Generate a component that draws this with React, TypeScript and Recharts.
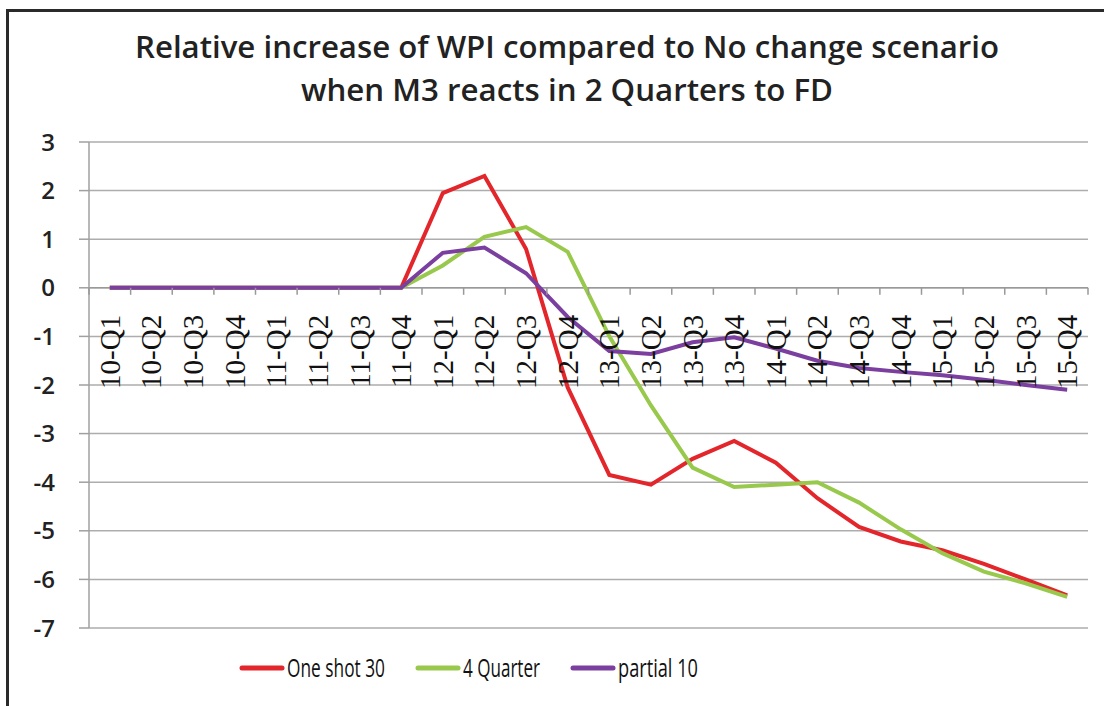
import { LineChart, Line, XAxis, YAxis, CartesianGrid, ReferenceLine, Legend } from "recharts";

const quarters = [
  "10-Q1", "10-Q2", "10-Q3", "10-Q4",
  "11-Q1", "11-Q2", "11-Q3", "11-Q4",
  "12-Q1", "12-Q2", "12-Q3", "12-Q4",
  "13-Q1", "13-Q2", "13-Q3", "13-Q4",
  "14-Q1", "14-Q2", "14-Q3", "14-Q4",
  "15-Q1", "15-Q2", "15-Q3", "15-Q4",
];
const oneShot30 = [0, 0, 0, 0, 0, 0, 0, 0, 1.95, 2.3, 0.8, -2.05, -3.85, -4.05, -3.52, -3.15, -3.6, -4.33, -4.92, -5.22, -5.4, -5.68, -6.0, -6.33];
const fourQuarter = [0, 0, 0, 0, 0, 0, 0, 0, 0.46, 1.05, 1.25, 0.74, -1.0, -2.42, -3.7, -4.1, -4.05, -4.0, -4.42, -4.97, -5.46, -5.84, -6.08, -6.36];
const partial10 = [0, 0, 0, 0, 0, 0, 0, 0, 0.72, 0.83, 0.3, -0.6, -1.3, -1.36, -1.12, -1.02, -1.25, -1.5, -1.65, -1.73, -1.8, -1.89, -2.0, -2.1];
const yTicks = [-7, -6, -5, -4, -3, -2, -1, 0, 1, 2, 3];

const series = [
  { key: "oneShot", name: "One shot 30", color: "#e3262b", textLen: 98 },
  { key: "four", name: "4 Quarter", color: "#98c94c", textLen: 77 },
  { key: "partial", name: "partial 10", color: "#7a3f9f", textLen: 80 },
];

const data = quarters.map((q, i) => ({
  q,
  oneShot: oneShot30[i],
  four: fourQuarter[i],
  partial: partial10[i],
}));

const W = 1104;
const H = 706;
const TOP = 142;
const BOTTOM = 628;
const RIGHT = 1088;
const Y_MIN = -7;
const Y_MAX = 3;
// y of the zero line, where the category axis sits
const zeroY = TOP + ((BOTTOM - TOP) * (Y_MAX - 0)) / (Y_MAX - Y_MIN);

const QuarterTick = (props: any) => {
  const { x, payload, index, visibleTicksCount } = props;
  const half = payload.offset ?? 0;
  return (
    <g>
      <line x1={x - half} x2={x - half} y1={zeroY} y2={zeroY + 7} stroke="#999" strokeWidth={1.5} />
      {index === visibleTicksCount - 1 && (
        <line x1={x + half} x2={x + half} y1={zeroY} y2={zeroY + 7} stroke="#999" strokeWidth={1.5} />
      )}
      <text
        transform={`translate(${x + 10},${zeroY + 27}) rotate(-90)`}
        textAnchor="end"
        fontFamily="'Liberation Serif', 'DejaVu Serif', serif"
        fontSize={29}
        fill="#111"
      >
        {payload.value}
      </text>
    </g>
  );
};

// legend: line swatch + condensed label, items laid out left to right
const LegendContent = () => {
  let cx = 242;
  return (
    <svg width={RIGHT} height={40} style={{ display: "block" }}>
      {series.map((s) => {
        const x0 = cx;
        cx += 45 + s.textLen + 33;
        return (
          <g key={s.key}>
            <line x1={x0} x2={x0 + 40} y1={20} y2={20} stroke={s.color} strokeWidth={5} strokeLinecap="round" />
            <text
              x={x0 + 45}
              y={29}
              fontFamily="'Open Sans', sans-serif"
              fontSize={26}
              fill="#111"
              textLength={s.textLen}
              lengthAdjust="spacingAndGlyphs"
            >
              {s.name}
            </text>
          </g>
        );
      })}
    </svg>
  );
};

export default function App() {
  return (
    <div style={{ position: "absolute", left: 0, top: 0, width: W, height: H, background: "#fff" }}>
      <div
        style={{
          position: "absolute",
          left: 6,
          top: 9,
          width: W - 6,
          height: H - 9,
          borderTop: "3px solid #2a2a2a",
          borderLeft: "3px solid #2a2a2a",
          boxSizing: "border-box",
        }}
      />
      <svg width={W} height={120} style={{ position: "absolute", left: 0, top: 0 }}>
        <text
          x={567}
          y={58}
          textAnchor="middle"
          fontFamily="'Open Sans', sans-serif"
          fontWeight={600}
          fontSize={31}
          fill="#222"
          textLength={864}
          lengthAdjust="spacingAndGlyphs"
        >
          Relative increase of WPI compared to No change scenario
        </text>
        <text
          x={567}
          y={101}
          textAnchor="middle"
          fontFamily="'Open Sans', sans-serif"
          fontWeight={600}
          fontSize={31}
          fill="#222"
          textLength={532}
          lengthAdjust="spacingAndGlyphs"
        >
          when M3 reacts in 2 Quarters to FD
        </text>
      </svg>
      <div style={{ position: "absolute", left: 0, top: 0 }}>
        <LineChart
          width={W}
          height={H}
          data={data}
          margin={{ top: TOP, right: W - RIGHT, bottom: H - BOTTOM - 41, left: 0 }}
        >
          <CartesianGrid vertical={false} stroke="#adadad" strokeWidth={1.5} />
          <XAxis
            dataKey="q"
            scale="band"
            height={1}
            axisLine={false}
            tickLine={false}
            interval={0}
            tick={<QuarterTick />}
          />
          <YAxis
            width={89}
            domain={[Y_MIN, Y_MAX]}
            ticks={yTicks}
            interval={0}
            tickSize={10}
            tickMargin={24}
            axisLine={{ stroke: "#a0a0a0", strokeWidth: 1.5 }}
            tickLine={{ stroke: "#a0a0a0", strokeWidth: 1.5 }}
            tick={{ fontFamily: "'Open Sans', sans-serif", fontWeight: 600, fontSize: 24, fill: "#222" }}
          />
          <ReferenceLine y={0} stroke="#999" strokeWidth={1.5} />
          <Legend
            verticalAlign="bottom"
            height={40}
            wrapperStyle={{ bottom: 18, left: 0 }}
            content={<LegendContent />}
          />
          {series.map((s) => (
            <Line
              key={s.key}
              type="linear"
              dataKey={s.key}
              name={s.name}
              stroke={s.color}
              strokeWidth={4}
              dot={false}
              isAnimationActive={false}
            />
          ))}
        </LineChart>
      </div>
    </div>
  );
}
